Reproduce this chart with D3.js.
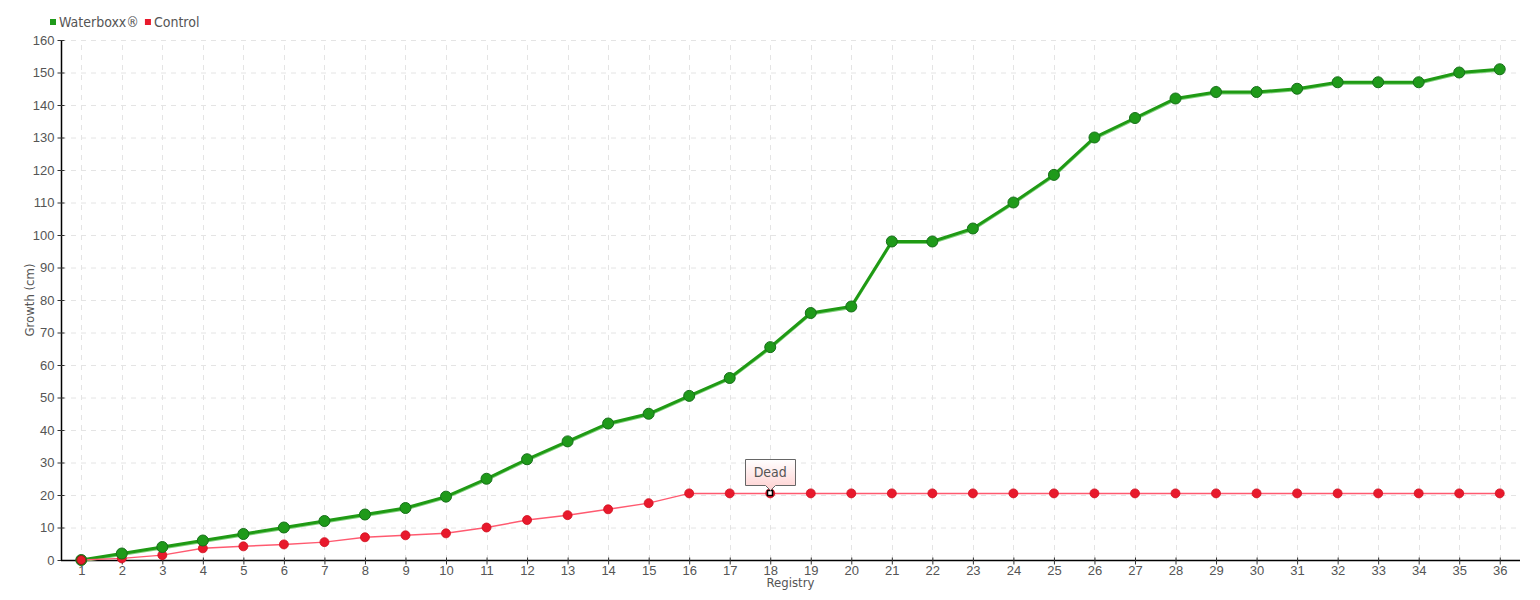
<!DOCTYPE html>
<html>
<head>
<meta charset="utf-8">
<script src="https://cdn.jsdelivr.net/npm/d3@7/dist/d3.min.js"></script>
<style>
  body { margin: 0; background: #fff; }
  svg { font-family: "DejaVu Sans Condensed", "DejaVu Sans", sans-serif; font-stretch: condensed; }
</style>
</head>
<body>
<div id="chart"></div>
<script>
// registry numbers 1..36
var registry = [1,2,3,4,5,6,7,8,9,10,11,12,13,14,15,16,17,18,19,20,21,22,23,24,25,26,27,28,29,30,31,32,33,34,35,36];
var waterboxx = [0,2,4,6,8,10,12,14,16,19.5,25,31,36.5,42,45,50.5,56,65.5,76,78,98,98,102,110,118.5,130,136,142,144,144,145,147,147,147,150,151];
var control = [0,0.5,1.5,3.6,4.2,4.8,5.5,7,7.6,8.2,10,12.3,13.8,15.6,17.5,20.5,20.5,20.5,20.5,20.5,20.5,20.5,20.5,20.5,20.5,20.5,20.5,20.5,20.5,20.5,20.5,20.5,20.5,20.5,20.5,20.5];
var yTicks = [0,10,20,30,40,50,60,70,80,90,100,110,120,130,140,150,160];
var annotation = { index: 17, text: "Dead" };

var width = 1540, height = 600;
var margin = { left: 61, right: 20, top: 40, bottom: 40 };

var svg = d3.select("#chart").append("svg")
    .attr("width", width)
    .attr("height", height);

var x = d3.scaleLinear().domain([0.5, 36.5]).range([margin.left, width - margin.right]);
var y = d3.scaleLinear().domain([0, 160]).range([height - margin.bottom, margin.top]);

// -- grid
var grid = svg.append("g").attr("stroke", "#e4e4e4").attr("stroke-dasharray", "5,5");
grid.selectAll("line.h").data(yTicks.slice(1)).enter().append("line")
    .attr("x1", x.range()[0]).attr("x2", x.range()[1])
    .attr("y1", function(d) { return y(d) + 0.5; })
    .attr("y2", function(d) { return y(d) + 0.5; });
grid.selectAll("line.v").data(registry).enter().append("line")
    .attr("x1", function(d) { return Math.round(x(d)) + 0.5; })
    .attr("x2", function(d) { return Math.round(x(d)) + 0.5; })
    .attr("y1", y(0)).attr("y2", y(160));

// -- axes
var yAxis = svg.append("g")
    .attr("transform", "translate(" + (margin.left + 0.5) + ",0)")
    .call(d3.axisLeft(y).tickValues(yTicks).tickSize(4).tickPadding(3));
var xAxis = svg.append("g")
    .attr("transform", "translate(0," + (y(0) + 0.5) + ")")
    .call(d3.axisBottom(x).tickValues(registry).tickSize(4).tickPadding(1));
[xAxis, yAxis].forEach(function(a) {
  a.select(".domain").attr("stroke", "#000").attr("stroke-width", 1.5);
  a.selectAll(".tick line").attr("stroke", "#333");
  a.selectAll(".tick text").attr("fill", "#555").style("font-size", "13px");
});
xAxis.selectAll(".tick line").attr("y1", -3);
yAxis.selectAll(".tick line").attr("x1", 3);
xAxis.select(".domain").attr("d", "M" + x.range()[0] + ",0H" + x.range()[1]);
yAxis.select(".domain").attr("d", "M0," + y.range()[0] + "V" + y.range()[1]);

// axis titles
svg.append("text")
    .attr("x", (x.range()[0] + x.range()[1]) / 2).attr("y", 587)
    .attr("text-anchor", "middle").attr("fill", "#555").style("font-size", "13px")
    .text("Registry");
svg.append("text")
    .attr("transform", "translate(34," + ((y.range()[0] + y.range()[1]) / 2) + ") rotate(-90)")
    .attr("text-anchor", "middle").attr("fill", "#555").style("font-size", "13px")
    .text("Growth (cm)");

// -- lines
var lineW = d3.line().x(function(d, i) { return x(registry[i]); }).y(function(d) { return y(d); });

svg.append("path").datum(waterboxx)
    .attr("d", lineW).attr("fill", "none")
    .attr("stroke", "#7fd07a").attr("stroke-width", 2)
    .attr("transform", "translate(0,1.5)");
svg.append("path").datum(waterboxx)
    .attr("d", lineW).attr("fill", "none")
    .attr("stroke", "#1f9a14").attr("stroke-width", 3);

svg.append("path").datum(control)
    .attr("d", lineW).attr("fill", "none")
    .attr("stroke", "#ff5a70").attr("stroke-width", 1.5);

// -- markers
svg.append("g").selectAll("circle").data(control).enter().append("circle")
    .attr("cx", function(d, i) { return x(registry[i]); })
    .attr("cy", function(d) { return y(d); })
    .attr("r", 4.5)
    .attr("fill", "#e8192c")
    .attr("stroke", "#d0101f")
    .attr("stroke-width", 0.8);

svg.append("g").selectAll("circle").data(waterboxx).enter().append("circle")
    .attr("cx", function(d, i) { return x(registry[i]); })
    .attr("cy", function(d) { return y(d); })
    .attr("r", 5.5)
    .attr("fill", "#1f9a1a")
    .attr("stroke", "#17701a")
    .attr("stroke-width", 1);

// first control point drawn over green one
svg.append("circle")
    .attr("cx", x(registry[0])).attr("cy", y(control[0]))
    .attr("r", 4.5).attr("fill", "#e8192c").attr("stroke", "#7a2a10").attr("stroke-width", 1);

// -- annotation
var defs = svg.append("defs");
var grad = defs.append("linearGradient").attr("id", "tipgrad")
    .attr("x1", 0).attr("y1", 0).attr("x2", 0).attr("y2", 1);
grad.append("stop").attr("offset", "0%").attr("stop-color", "#ffffff");
grad.append("stop").attr("offset", "100%").attr("stop-color", "#ffd0d0");

var ax = x(registry[annotation.index]), ay = y(control[annotation.index]);
var bw = 50, bh = 26, boxTop = ay - 34;
// highlighted point: small white square
svg.append("rect")
    .attr("x", Math.round(ax) - 2.5).attr("y", Math.round(ay) - 2.5)
    .attr("width", 5).attr("height", 5)
    .attr("fill", "#fff").attr("stroke", "#000").attr("stroke-width", 1.5);
svg.append("path")
    .attr("d", "M" + (Math.round(ax) - bw / 2 + 0.5) + "," + (Math.round(boxTop) + 0.5) +
               "h" + bw + "v" + bh + "h" + (-(bw / 2 - 5)) +
               "l-5,5l-5,-5h" + (-(bw / 2 - 5)) + "Z")
    .attr("fill", "url(#tipgrad)").attr("stroke", "#666").attr("stroke-width", 1);
svg.append("text")
    .attr("x", ax).attr("y", boxTop + 18)
    .attr("text-anchor", "middle").attr("fill", "#555").style("font-size", "14px")
    .text(annotation.text);

// -- legend
var legend = [{ name: "Waterboxx®", color: "#1f9a1a" }, { name: "Control", color: "#e8192c" }];
var lx = 50;
legend.forEach(function(l) {
  svg.append("rect").attr("x", lx).attr("y", 19).attr("width", 6).attr("height", 6).attr("fill", l.color);
  var t = svg.append("text").attr("x", lx + 9).attr("y", 27)
      .attr("fill", "#555").style("font-size", "14px").text(l.name);
  lx += t.node().getComputedTextLength() + 15;
});
</script>
</body>
</html>
